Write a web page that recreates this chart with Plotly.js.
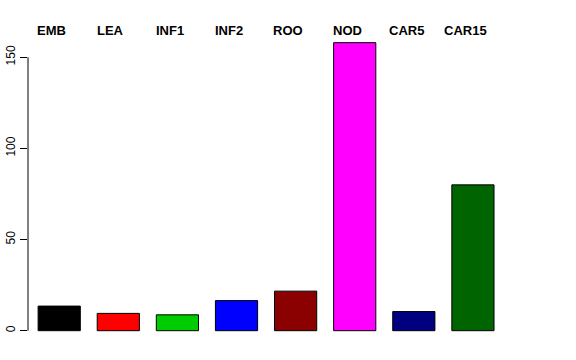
<!DOCTYPE html>
<html>
<head>
<meta charset="utf-8">
<script src="https://cdn.plot.ly/plotly-3.0.1.min.js"></script>
<style>html,body{margin:0;padding:0;background:#fff;}#chart{width:576px;height:360px;}</style>
</head>
<body>
<div id="chart"></div>
<script>
var categories = ["EMB", "LEA", "INF1", "INF2", "ROO", "NOD", "CAR5", "CAR15"];
var values = [13.5, 9.5, 8.7, 16.5, 21.7, 158, 10.5, 80];
var colors = ["#000000", "#FF0000", "#00CD00", "#0000FF", "#8B0000", "#FF00FF", "#000080", "#006400"];
var yTicks = [0, 50, 100, 150];

var xs = categories.map(function (c, i) { return i; });

var trace = {
  type: "bar",
  x: xs,
  y: values,
  width: 0.714,
  marker: { color: colors, line: { color: "#000000", width: 1 } },
  hoverinfo: "skip"
};

var annotations = categories.map(function (c, i) {
  return {
    text: "<b>" + c + "</b>",
    x: i - 0.13, xref: "x",
    y: 1, yref: "paper",
    yanchor: "middle", xanchor: "center",
    yshift: 1,
    showarrow: false,
    font: { family: "Liberation Sans, Arial, sans-serif", size: 13, color: "#000000" }
  };
});

var layout = {
  width: 576, height: 360,
  margin: { l: 28, r: 63, t: 31, b: 18, pad: 0 },
  paper_bgcolor: "#ffffff",
  plot_bgcolor: "#ffffff",
  showlegend: false,
  xaxis: {
    range: [-0.528, 7.678],
    showticklabels: false, showgrid: false, zeroline: false, showline: false, ticks: ""
  },
  yaxis: {
    range: [-6.2, 164.4],
    tickvals: yTicks,
    ticktext: yTicks.map(String),
    ticks: "outside", ticklen: 7, tickcolor: "#000000", tickwidth: 1,
    tickangle: -90,
    tickfont: { family: "Liberation Sans, Arial, sans-serif", size: 12, color: "#000000" },
    showgrid: false, zeroline: false, showline: false
  },
  shapes: [{
    type: "line", xref: "paper", yref: "y",
    x0: 0, x1: 0, y0: yTicks[0], y1: yTicks[yTicks.length - 1],
    line: { color: "#000000", width: 1 }
  }],
  annotations: annotations
};

Plotly.newPlot("chart", [trace], layout, { displayModeBar: false, staticPlot: true });
</script>
</body>
</html>
